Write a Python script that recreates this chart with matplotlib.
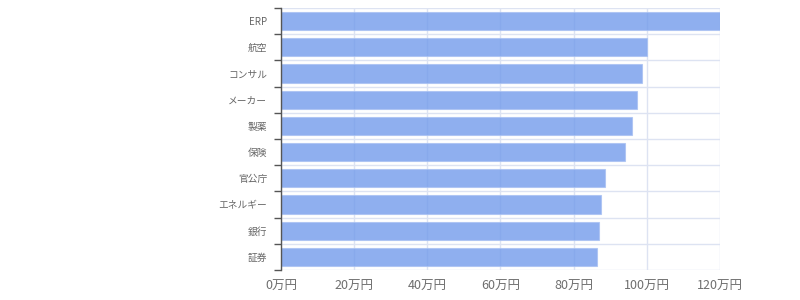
import matplotlib
matplotlib.use("Agg")
import matplotlib.pyplot as plt
import numpy as np

plt.rcParams['font.family'] = ['Noto Sans CJK JP', 'DejaVu Sans']

categories = ["ERP", "航空", "コンサル", "メーカー", "製薬", "保険", "官公庁", "エネルギー", "銀行", "証券"]
values = [120.0, 100.0, 98.6, 97.4, 95.9, 94.0, 88.7, 87.6, 87.0, 86.5]
xticks = [0, 20, 40, 60, 80, 100, 120]
xtick_labels = [f"{v}万円" for v in xticks]

fig = plt.figure(figsize=(8, 3), dpi=100)
ax = fig.add_axes([281/800, 1-270/300, (720-281)/800, (270-8)/300])

n = len(categories)
y = np.arange(n)
ax.barh(y, values, height=0.7, color="#739beb", alpha=0.8,
        edgecolor="#a9c1f2", linewidth=0.8, zorder=2)

ax.set_xlim(0, 120)
ax.set_ylim(n - 0.5, -0.5)
ax.set_xticks(xticks)
ax.set_xticklabels(xtick_labels, fontsize=9, color="#6e6e6e")
ax.set_yticks(y)
ax.set_yticklabels(categories, fontsize=7, color="#666666")
ax.set_yticks(np.arange(-0.5, n, 1), minor=True)

ax.tick_params(axis='y', which='major', length=0, pad=10)
ax.tick_params(axis='y', which='minor', length=5, color="#555555", width=1)
ax.tick_params(axis='x', which='major', length=0, pad=7)

ax.grid(True, axis='x', which='major', color="#dde3f2", linewidth=1, zorder=0)
ax.grid(True, axis='y', which='minor', color="#dde3f2", linewidth=1, zorder=0)
ax.set_axisbelow(True)

for s in ['top', 'right', 'bottom']:
    ax.spines[s].set_visible(False)
ax.spines['left'].set_color("#555555")
ax.spines['left'].set_linewidth(1)

fig.savefig("out.png", dpi=100)
